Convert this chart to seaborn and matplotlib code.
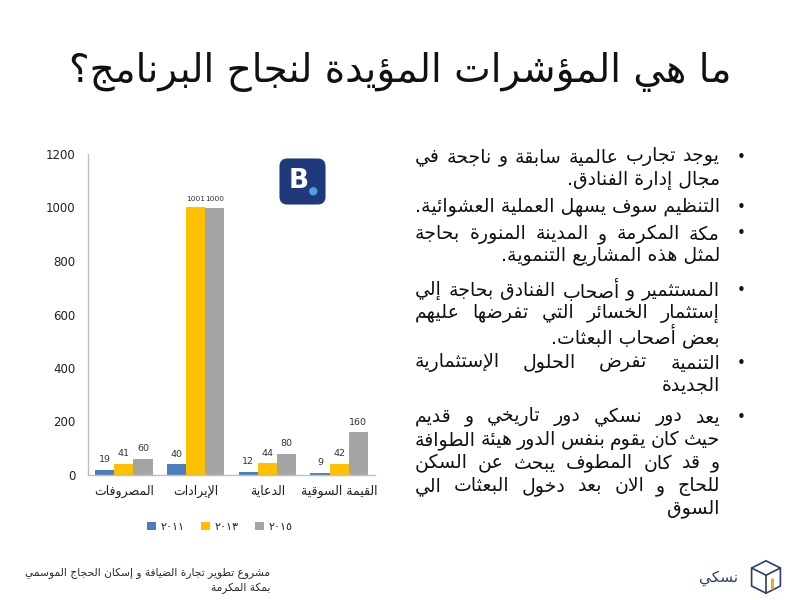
import re
import pandas as pd
import matplotlib
matplotlib.use("Agg")
import matplotlib.pyplot as plt
from matplotlib.patches import FancyBboxPatch, Circle, Polygon
import seaborn as sns

# ── Data ──────────────────────────────────────────────────────────────────────
categories = ["المصروفات", "الإيرادات", "الدعاية", "القيمة السوقية"]
years = ["٢٠١١", "٢٠١٣", "٢٠١٥"]
values_2011 = [19, 40, 12, 9]
values_2013 = [41, 1001, 44, 42]
values_2015 = [60, 1000, 80, 160]
yticks = [0, 200, 400, 600, 800, 1000, 1200]

title = "ما هي المؤشرات المؤيدة لنجاح البرنامج؟"
bullets = [
    ["يوجد تجارب عالمية سابقة و ناجحة في", "مجال إدارة الفنادق."],
    ["التنظيم سوف يسهل العملية العشوائية."],
    ["مكة المكرمة و المدينة المنورة بحاجة", "لمثل هذه المشاريع التنموية."],
    ["المستثمير و أصحاب الفنادق بحاجة إلي", "إستثمار الخسائر التي تفرضها عليهم",
     "بعض أصحاب البعثات."],
    ["التنمية تفرض الحلول الإستثمارية", "الجديدة"],
    ["يعد دور نسكي دور تاريخي و قديم", "حيث كان يقوم بنفس الدور هيئة الطوافة",
     "و قد كان المطوف يبحث عن السكن", "للحاج و الان بعد دخول البعثات الي", "السوق"],
]
footer = ["مشروع تطوير تجارة الضيافة و إسكان الحجاج الموسمي", "بمكة المكرمة"]
brand = "نسكي"

colors = ["#4a7ebf", "#ffc000", "#a5a5a5"]

# ── Minimal Arabic shaping (matplotlib has no bidi / joining) ────────────────
# letter -> (isolated presentation form, joining type: 0 none, 1 right, 2 dual)
FORMS = {
    "ء": (0xFE80, 0), "آ": (0xFE81, 1), "أ": (0xFE83, 1), "ؤ": (0xFE85, 1),
    "إ": (0xFE87, 1), "ئ": (0xFE89, 2), "ا": (0xFE8D, 1), "ب": (0xFE8F, 2),
    "ة": (0xFE93, 1), "ت": (0xFE95, 2), "ث": (0xFE99, 2), "ج": (0xFE9D, 2),
    "ح": (0xFEA1, 2), "خ": (0xFEA5, 2), "د": (0xFEA9, 1), "ذ": (0xFEAB, 1),
    "ر": (0xFEAD, 1), "ز": (0xFEAF, 1), "س": (0xFEB1, 2), "ش": (0xFEB5, 2),
    "ص": (0xFEB9, 2), "ض": (0xFEBD, 2), "ط": (0xFEC1, 2), "ظ": (0xFEC5, 2),
    "ع": (0xFEC9, 2), "غ": (0xFECD, 2), "ف": (0xFED1, 2), "ق": (0xFED5, 2),
    "ك": (0xFED9, 2), "ل": (0xFEDD, 2), "م": (0xFEE1, 2), "ن": (0xFEE5, 2),
    "ه": (0xFEE9, 2), "و": (0xFEED, 1), "ى": (0xFEEF, 1), "ي": (0xFEF1, 2),
}
LAM_ALEF = {"آ": 0xFEF5, "أ": 0xFEF7, "إ": 0xFEF9, "ا": 0xFEFB}


def ar(text):
    toks = []
    i = 0
    while i < len(text):
        c = text[i]
        if c == "ل" and i + 1 < len(text) and text[i + 1] in LAM_ALEF:
            toks.append(("LA", LAM_ALEF[text[i + 1]], 1))
            i += 2
            continue
        if c in FORMS:
            toks.append((c, FORMS[c][0], FORMS[c][1]))
        elif c == "ـ":
            toks.append((c, None, 2))
        else:
            toks.append((c, None, 0))
        i += 1

    out = []
    for k, (c, base, jt) in enumerate(toks):
        if base is None:
            out.append(c)
            continue
        prev_j = k > 0 and toks[k - 1][2] == 2
        next_j = jt == 2 and k + 1 < len(toks) and toks[k + 1][2] >= 1
        if jt == 0:
            form = 0
        elif jt == 1:
            form = 1 if prev_j else 0
        else:
            form = {(False, False): 0, (True, False): 1,
                    (False, True): 2, (True, True): 3}[(prev_j, next_j)]
        out.append(chr(base + form))
    vis = "".join(out)[::-1]
    # numbers / latin stay left-to-right
    return re.sub(r"[0-9A-Za-z\u0660-\u0669]+", lambda m: m.group(0)[::-1], vis)


# ── Style ─────────────────────────────────────────────────────────────────────
sns.set_style("white")
plt.rcParams["font.family"] = ["DejaVu Sans"]

fig = plt.figure(figsize=(8, 6), dpi=100)
fig.patch.set_facecolor("white")
renderer = fig.canvas.get_renderer()


def text_width(s, size):
    t = fig.text(0, 0, s, fontsize=size)
    w = t.get_window_extent(renderer).width
    t.remove()
    return w


# Title
fig.text(0.5, 1 - 72 / 600, ar(title), ha="center", va="center",
         fontsize=28, color="#111111")

# ── Bar chart ─────────────────────────────────────────────────────────────────
df = pd.DataFrame({
    "category": [ar(c) for c in categories] * 3,
    "year": [y for y in years for _ in categories],
    "value": values_2011 + values_2013 + values_2015,
})

ax = fig.add_axes([88 / 800, 1 - 475 / 600, 287 / 800, 321 / 600])
sns.barplot(data=df, x="category", y="value", hue="year",
            order=[ar(c) for c in categories], hue_order=years,
            palette=colors, saturation=1, width=0.8, linewidth=0, ax=ax)

for cont in ax.containers:
    labels = ax.bar_label(cont, fmt="%d", fontsize=6.8, padding=4,
                          color="#333333")
    for lab in labels:
        if len(lab.get_text()) > 3:
            lab.set_fontsize(5.4)

ax.set_ylim(0, 1200)
ax.set_yticks(yticks)
ax.tick_params(axis="both", length=0, labelsize=8.5, colors="#222222")
ax.tick_params(axis="y", pad=9)
ax.tick_params(axis="x", labelsize=9, pad=7)
ax.set_xlabel("")
ax.set_ylabel("")
sns.despine(ax=ax)
for side in ["left", "bottom"]:
    ax.spines[side].set_color("#bfbfbf")
    ax.spines[side].set_linewidth(1)

sns.move_legend(ax, "upper center", bbox_to_anchor=(0.46, -0.115), ncol=3,
                frameon=False, title=None, fontsize=8, handlelength=0.8,
                handleheight=0.8, handletextpad=0.4, columnspacing=1.5)

# Booking-style logo badge
lax = fig.add_axes([278 / 800, 1 - 206 / 600, 49 / 800, 49 / 600])
lax.set_xlim(0, 1)
lax.set_ylim(0, 1)
lax.axis("off")
lax.add_patch(FancyBboxPatch((0.03, 0.03), 0.94, 0.94,
                             boxstyle="round,pad=0,rounding_size=0.16",
                             facecolor="#1e3a7b", edgecolor="none"))
lax.text(0.42, 0.52, "B", color="white", fontsize=19, fontweight="bold",
         ha="center", va="center")
lax.add_patch(Circle((0.72, 0.3), 0.07, color="#4ba3e3"))

# ── Bullet text (justified like the slide) ───────────────────────────────────
fs = 13.6
right_x, left_x = 720, 415
para_y = [157, 207, 234, 290, 363, 417]
for para, y in zip(bullets, para_y):
    fig.text(741 / 800, 1 - y / 600, "•", ha="center", va="center",
             fontsize=11, color="#111111")
    for n, line in enumerate(para):
        yy = 1 - (y + 23 * n) / 600
        words = line.split(" ")
        if n == len(para) - 1 or len(words) < 2:
            fig.text(right_x / 800, yy, ar(line), ha="right", va="center",
                     fontsize=fs, color="#111111")
            continue
        widths = [text_width(ar(w), fs) for w in words]
        gap = (right_x - left_x - sum(widths)) / (len(words) - 1)
        x = right_x
        for w, wd in zip(words, widths):
            fig.text(x / 800, yy, ar(w), ha="right", va="center",
                     fontsize=fs, color="#111111")
            x -= wd + gap

# ── Footer ────────────────────────────────────────────────────────────────────
fig.text(270 / 800, 1 - 573 / 600, ar(footer[0]), ha="right", va="center",
         fontsize=7.7, color="#2a2a2a")
fig.text(270 / 800, 1 - 588 / 600, ar(footer[1]), ha="right", va="center",
         fontsize=7.7, color="#2a2a2a")

fig.text(738 / 800, 1 - 578 / 600, ar(brand), ha="right", va="center",
         fontsize=11, color="#2c3e6e")
cax = fig.add_axes([750 / 800, 1 - 595 / 600, 32 / 800, 36 / 600])
cax.set_xlim(0, 1)
cax.set_ylim(0, 1)
cax.axis("off")
cax.add_patch(Polygon([(0.5, 0.95), (0.95, 0.75), (0.95, 0.25), (0.5, 0.05),
                       (0.05, 0.25), (0.05, 0.75)], closed=True,
                      fill=False, edgecolor="#2c3e6e", linewidth=1.2))
cax.plot([0.05, 0.5, 0.95], [0.75, 0.55, 0.75], color="#2c3e6e", lw=1.2)
cax.plot([0.5, 0.5], [0.55, 0.05], color="#2c3e6e", lw=1.2)
cax.plot([0.68, 0.68], [0.2, 0.45], color="#e0a820", lw=2)

fig.savefig("out.png", dpi=100, facecolor="white")
